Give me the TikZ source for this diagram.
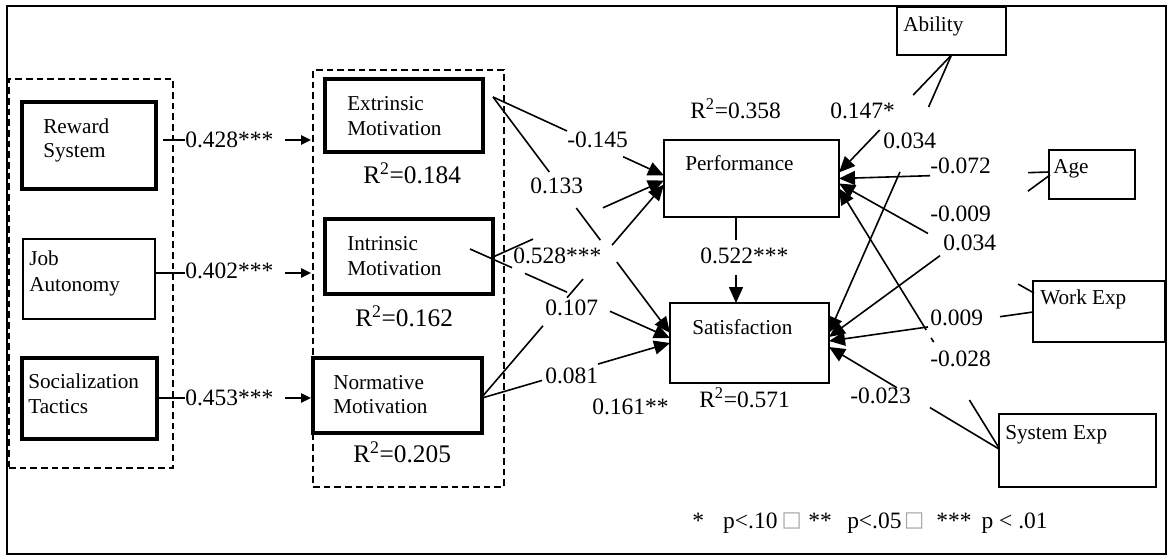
\documentclass[tikz,border=0pt]{standalone}
\usepackage{fontspec}
\setmainfont{Liberation Serif}
\newfontfamily\dejavu{DejaVu Sans}
\usetikzlibrary{arrows.meta,calc}
\newcommand{\legsq}{\raisebox{1pt}{\dejavu\fontsize{16}{16}\selectfont\textcolor{gray!70}{□}}}
\begin{document}
\begin{tikzpicture}[x=0.75pt,y=-0.75pt,
  sz/.style 2 args={minimum width=#1*0.75pt, minimum height=#2*0.75pt},
  thickbox/.style={draw, line width=2.4pt, inner sep=0pt, outer sep=0pt},
  thinbox/.style={draw, line width=1.3pt, inner sep=0pt, outer sep=0pt},
  grp/.style={draw, line width=1.1pt, dash pattern=on 5pt off 3pt, inner sep=0pt, outer sep=0pt},
  btxt/.style={inner sep=0pt, anchor=base west, font=\fontsize{15.9}{18}\selectfont},
  lbl/.style={inner sep=0pt, anchor=base west, font=\fontsize{17.6}{20}\selectfont},
  rlbl/.style={inner sep=0pt, anchor=base west, font=\fontsize{19}{21}\selectfont},
  rlbls/.style={inner sep=0pt, anchor=base west, font=\fontsize{17.6}{20}\selectfont},
  conn/.style={line width=1.2pt, -{Triangle[length=12pt,width=10.5pt]}},
  sconn/.style={line width=1.2pt, -{Triangle[length=7.5pt,width=7pt]}}
]
\useasboundingbox (0,0) rectangle (1168,557);
\node[thinbox, sz={1159}{548}] (frame) at (586.5,280) {};

% groups
\node[grp, sz={164}{389}] (g1) at (91,273.5) {};
\node[grp, sz={191}{417}] (g2) at (408.5,278.5) {};

% boxes
\node[thickbox, sz={134}{87}] (rs) at (89,145.5) {};
\node[thinbox,  sz={132}{80}] (ja) at (89,279) {};
\node[thickbox, sz={135}{81}] (st) at (89.5,398.5) {};
\node[thickbox, sz={158}{73}] (em) at (404,115.5) {};
\node[thickbox, sz={168}{75}] (im) at (409,256.5) {};
\node[thickbox, sz={169}{75}] (nm) at (397.5,395.5) {};
\node[thinbox,  sz={175}{77}] (perf) at (751.5,178.5) {};
\node[thinbox,  sz={159}{80}] (sat) at (749.5,343) {};
\node[thinbox,  sz={109}{48}] (abil) at (951.5,31) {};
\node[thinbox,  sz={86}{49}] (age) at (1092,174.5) {};
\node[thinbox,  sz={132}{61}] (work) at (1099,311.5) {};
\node[thinbox,  sz={157}{73}] (sys) at (1077.5,450.5) {};

% box texts
\node[btxt] (rs1) at (43,133) {Reward};
\node[btxt] (rs2) at (43,157) {System};
\node[btxt] (ja1) at (29,265) {Job};
\node[btxt] (ja2) at (29,291) {Autonomy};
\node[btxt] (st1) at (28,388) {Socialization};
\node[btxt] (st2) at (28,413) {Tactics};
\node[btxt] (em1) at (347,110) {Extrinsic};
\node[btxt] (em2) at (347,135) {Motivation};
\node[btxt] (im1) at (347,250) {Intrinsic};
\node[btxt] (im2) at (347,275) {Motivation};
\node[btxt] (nm1) at (333,389) {Normative};
\node[btxt] (nm2) at (333,413) {Motivation};
\node[btxt] (perft) at (685,170) {Performance};
\node[btxt] (satt) at (692,334) {Satisfaction};
\node[btxt] (abilt) at (903,31) {Ability};
\node[btxt] (aget) at (1053,173) {Age};
\node[btxt] (workt) at (1040,304) {Work Exp};
\node[btxt] (syst) at (1005,439) {System Exp};

% free arrow ends at the group border
\coordinate (a1) at (311,140);
\coordinate (a2) at (311,273);
\coordinate (a3) at (311,398);

% left connectors
\draw[sconn, dash pattern=on 16.5pt off 75pt on 200pt] ($(rs.east)+(7,-5.5)$) -- (a1);
\draw[sconn, dash pattern=on 22.5pt off 75pt on 200pt] ($(ja.east)+(0,-6)$) -- (a2);
\draw[sconn, dash pattern=on 21pt off 75pt on 200pt] ($(st.east)+(0,-0.5)$) -- (a3);

% middle connectors
\draw[conn, dash pattern=on 61.05pt off 46.3pt on 300pt] ($(em.east)+(10,-18.5)$) -- ($(perf.west)+(0,-3)$);
\draw[conn, dash pattern=on 70.35pt off 33.75pt on 30.1pt off 20.6pt on 300pt] ($(em.east)+(10,-18.5)$) -- ($(sat.west)+(0,-10)$);
\draw[conn, dash pattern=on 32.85pt off 57.5pt on 300pt] ($(im.east)+(0,0.5)$) -- ($(perf.west)+(0,2)$);
\draw[conn, dash pattern=on 34.5pt off 10.65pt on 34.5pt off 35.25pt on 300pt] ($(im.east)+(-23,-7.5)$) -- ($(sat.west)+(0,-5)$);
\draw[conn, dash pattern=on 70.35pt off 27.7pt on 18.45pt off 33.45pt on 300pt] ($(nm.east)+(0,1.5)$) -- ($(perf.west)+(0,6)$);
\draw[conn, dash pattern=on 46.9pt off 43.8pt on 300pt] ($(nm.east)+(0,2.5)$) -- (sat.west);
\draw[conn, dash pattern=on 17.25pt off 26.25pt on 300pt] ($(perf.south)+(-15.5,0)$) -- ($(sat.north)+(-13.5,0)$);

% right connectors
\draw[conn, dash pattern=on 41.55pt off 36.3pt on 300pt] (abil.south) -- ($(perf.east)+(0,-6)$);
\draw[conn, dash pattern=on 42.6pt off 53.25pt on 300pt] (abil.south) -- ($(sat.east)+(0,-10)$);
\draw[conn, dash pattern=on 15.75pt off 73.5pt on 300pt] ($(age.west)+(0,-2.5)$) -- (perf.east);
\draw[conn, dash pattern=on 20.5pt off 81.8pt on 300pt] ($(age.west)+(1,0.5)$) -- ($(sat.east)+(0,-6)$);
\draw[conn, dash pattern=on 13.7pt off 77.5pt on 300pt] ($(work.west)+(1,-18.5)$) -- ($(perf.east)+(0,5)$);
\draw[conn, dash pattern=on 25pt off 54.6pt on 300pt] ($(work.west)+(0,0.5)$) -- ($(sat.east)+(0,-2)$);
\draw[conn, dash pattern=on 42.3pt off 51pt on 3.7pt off 7pt on 300pt] ($(sys.west)+(0,-2.5)$) -- ($(perf.east)+(0,10)$);
\draw[conn, dash pattern=on 60.4pt off 28.9pt on 300pt] ($(sys.west)+(0,-1.5)$) -- ($(sat.east)+(0,4)$);

% path labels
\node[lbl] (l1) at (185,147) {0.428***};
\node[lbl] (l2) at (185,278) {0.402***};
\node[lbl] (l3) at (185,405) {0.453***};
\node[lbl] (l4) at (567,147) {-0.145};
\node[lbl] (l5) at (530,193) {0.133};
\node[lbl] (l6) at (513,263) {0.528***};
\node[lbl] (l7) at (545,315) {0.107};
\node[lbl] (l8) at (545,383) {0.081};
\node[lbl] (l9) at (592,414) {0.161**};
\node[lbl] (l10) at (700,263) {0.522***};
\node[lbl] (l11) at (830,118) {0.147*};
\node[lbl] (l12) at (883,148) {0.034};
\node[lbl] (l13) at (930,173) {-0.072};
\node[lbl] (l14) at (930,221) {-0.009};
\node[lbl] (l15) at (943,250) {0.034};
\node[lbl] (l16) at (930,325) {0.009};
\node[lbl] (l17) at (930,366) {-0.028};
\node[lbl] (l18) at (850,403) {-0.023};

% R squared
\node[rlbl] (r1) at (363,183) {R\textsuperscript{2}=0.184};
\node[rlbl] (r2) at (355,326) {R\textsuperscript{2}=0.162};
\node[rlbl] (r3) at (353,462) {R\textsuperscript{2}=0.205};
\node[rlbls] (r4) at (690,118) {R\textsuperscript{2}=0.358};
\node[rlbls] (r5) at (699,407) {R\textsuperscript{2}=0.571};

% legend
\node[lbl] (leg) at (692,528) {*\hspace{14.4pt}p<.10\hspace{3pt}\legsq\hspace{5pt}**\hspace{11.6pt}p<.05\hspace{2pt}\legsq\hspace{9pt}***\hspace{7.5pt}p < .01};
\end{tikzpicture}
\end{document}
